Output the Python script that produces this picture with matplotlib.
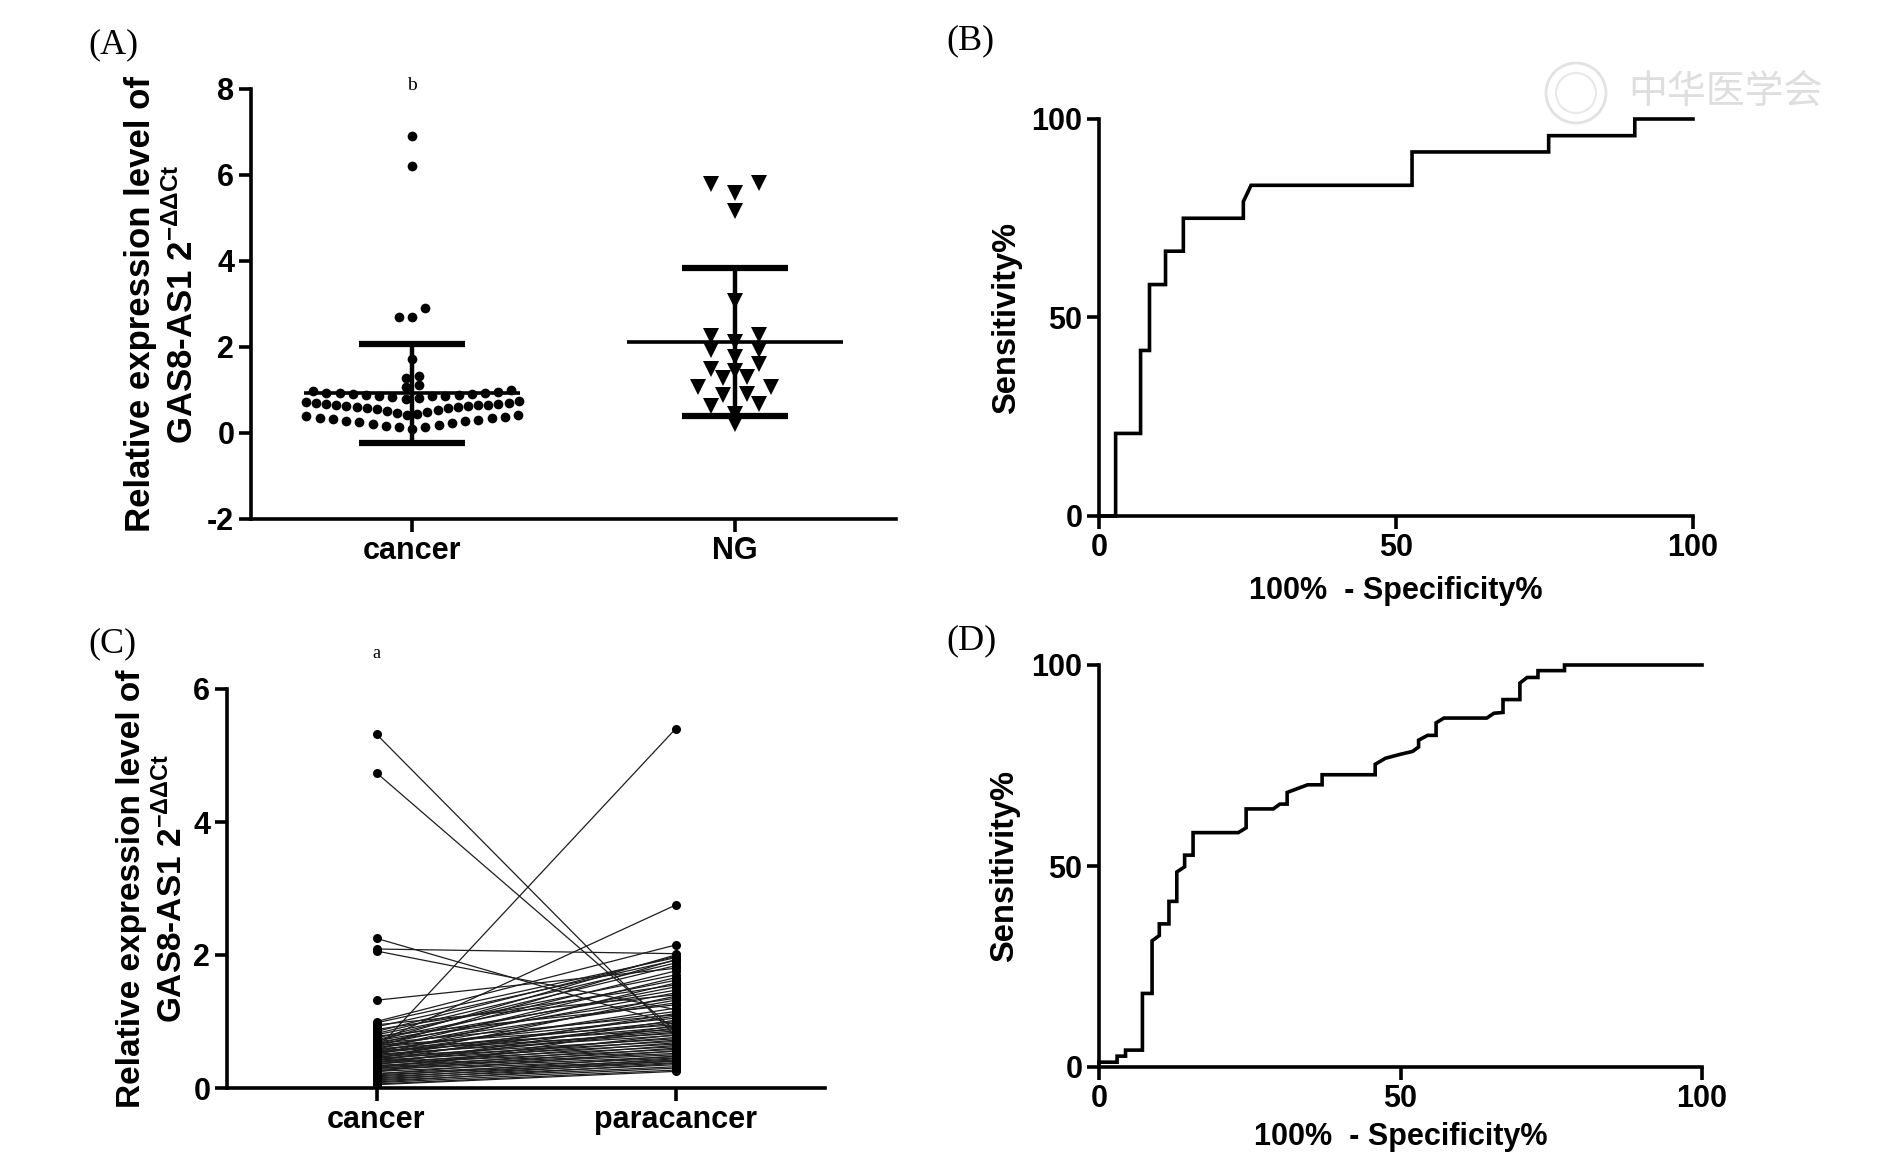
import numpy as np
import matplotlib.pyplot as plt
from matplotlib import transforms
from matplotlib.patches import Ellipse

plt.rcParams['font.family'] = ['Liberation Sans', 'DejaVu Sans']
plt.rcParams['font.weight'] = 'bold'
plt.rcParams['axes.labelweight'] = 'bold'
plt.rcParams['mathtext.fontset'] = 'custom'
plt.rcParams['mathtext.rm'] = 'Liberation Sans'
plt.rcParams['mathtext.bf'] = 'Liberation Sans:bold'

# ---- data ----
# (A) scatter dot plot
groups_A = ['cancer', 'NG']
cancer_A = [0.10, 0.13, 0.15, 0.17, 0.19, 0.21, 0.23, 0.25, 0.27, 0.29, 0.31, 0.33, 0.35, 0.36, 0.38, 0.39, 0.41,
            0.43, 0.45, 0.47, 0.49, 0.51, 0.53, 0.55, 0.57, 0.59, 0.60, 0.61, 0.62, 0.63, 0.64, 0.65, 0.66, 0.67,
            0.68, 0.69, 0.70, 0.72, 0.74,
            0.80, 0.82, 0.84, 0.85, 0.86, 0.87, 0.88, 0.89, 0.90, 0.91, 0.92, 0.93, 0.94, 0.96, 0.98, 1.00,
            1.06, 1.12, 1.28, 1.32, 1.73, 2.69, 2.70, 2.91, 6.20, 6.91]
ng_A = [5.82, 5.58, 5.78, 5.16, 3.07, 2.26, 2.27, 2.12, 1.94, 1.94, 1.76, 1.61, 1.45, 1.49, 1.30, 1.27,
        1.06, 1.06, 0.91, 0.88, 0.63, 0.67, 0.44, 0.21]

# (B) ROC points, cancer vs NG
roc_B_fpr = [0, 2.8, 2.8, 7.0, 7.0, 8.5, 8.5, 11.2, 11.2, 14.2, 14.2, 24.3, 24.3, 25.6, 52.7, 52.7,
             75.7, 75.7, 90.2, 90.2, 100]
roc_B_tpr = [0, 0, 20.8, 20.8, 41.7, 41.7, 58.3, 58.3, 66.7, 66.7, 75.0, 75.0, 79.2, 83.3, 83.3, 91.7,
             91.7, 95.8, 95.8, 100, 100]

# (C) paired samples
groups_C = ['cancer', 'paracancer']
cancer_C = [5.32, 4.74, 2.25, 2.06, 2.09, 1.32, 0.58, 0.68, 1.00, 0.98, 0.95, 0.92, 0.88, 0.85, 0.82, 0.80,
            0.78, 0.75, 0.73, 0.71, 0.70, 0.69, 0.67, 0.66, 0.65, 0.64, 0.63, 0.62, 0.61, 0.60, 0.59, 0.58,
            0.57, 0.56, 0.55, 0.54, 0.53, 0.52, 0.51, 0.50, 0.49, 0.48, 0.47, 0.46, 0.45, 0.44, 0.43, 0.42,
            0.41, 0.40, 0.39, 0.38, 0.37, 0.36, 0.35, 0.34, 0.33, 0.32, 0.31, 0.30, 0.29, 0.28, 0.26, 0.25,
            0.24, 0.22, 0.21, 0.20, 0.18, 0.17, 0.15, 0.14, 0.12, 0.11, 0.09, 0.08, 0.06, 0.05]
para_C = [0.78, 0.86, 0.95, 1.18, 2.02, 1.80, 5.40, 2.75, 2.15, 1.96, 1.40, 1.92, 1.55, 1.98, 1.88, 1.70,
          1.25, 1.84, 1.62, 1.47, 2.00, 1.35, 1.10, 1.76, 1.52, 0.95, 1.28, 1.93, 1.05, 1.43, 0.88, 1.66,
          1.15, 0.82, 1.32, 1.00, 0.92, 1.20, 0.79, 1.58, 0.86, 1.08, 0.74, 0.98, 0.70, 1.38, 0.84, 0.66,
          1.12, 0.76, 0.62, 0.90, 0.58, 0.72, 1.02, 0.55, 0.68, 0.52, 0.80, 0.50, 0.64, 0.47, 0.60, 0.45,
          0.94, 0.42, 0.56, 0.40, 0.48, 0.38, 0.44, 0.35, 0.41, 0.32, 0.37, 0.30, 0.27, 0.25]

# (D) ROC points, cancer vs paracancer
roc_D_fpr = [0, 0, 3.0, 3.0, 4.4, 4.4, 7.2, 7.2, 8.8, 8.8, 10.0, 10.0, 11.6, 11.6, 12.9, 12.9, 14.2, 14.2,
             15.6, 15.6, 23.1, 24.4, 24.4, 28.9, 30.0, 31.2, 31.2, 33.0, 34.6, 37.0, 37.0, 45.8, 45.8, 47.5,
             50.0, 52.0, 53.0, 53.0, 54.5, 55.9, 55.9, 57.2, 64.3, 65.5, 67.0, 67.0, 69.8, 69.8, 71.0, 72.8,
             72.8, 77.2, 77.2, 100]
roc_D_tpr = [0, 1.2, 1.2, 2.7, 2.7, 4.2, 4.2, 18.3, 18.3, 31.4, 32.7, 35.6, 35.6, 41.2, 41.2, 48.5, 49.8, 52.7,
             52.7, 58.3, 58.3, 59.5, 64.2, 64.2, 65.4, 65.4, 68.3, 69.3, 70.2, 70.2, 72.7, 72.7, 75.3, 76.8,
             77.8, 78.5, 79.6, 81.3, 82.5, 82.5, 85.6, 86.8, 86.8, 88.0, 88.2, 91.4, 91.4, 95.5, 96.9, 96.9,
             98.6, 98.6, 100, 100]

ylab = 'Relative expression level of\nGAS8-AS1 2$^{\\mathbf{-\u0394\u0394Ct}}$'
roc_xlab = '100%  - Specificity%'
roc_ylab = 'Sensitivity%'


def row_offsets(vals, edges, step, width):
    # GraphPad-like layout: values binned in rows, lowest in the middle
    vals = np.asarray(vals, dtype=float)
    off = np.zeros(len(vals))
    rows = np.digitize(vals, edges)
    for r in np.unique(rows):
        idx = np.where(rows == r)[0]
        idx = idx[np.argsort(vals[idx], kind='stable')]
        n = len(idx)
        st = step if n < 2 else min(step, width / (n - 1))
        slots = (np.arange(n) - (n - 1) / 2) * st
        off[idx] = slots[np.argsort(np.abs(slots), kind='stable')]
    return off


W, H = 1882, 1163
fig = plt.figure(figsize=(W / 100, H / 100), dpi=100)


def px_axes(l, r, t, b):
    return fig.add_axes([l / W, 1 - b / H, (r - l) / W, (b - t) / H])


def style(ax):
    for s in ['top', 'right']:
        ax.spines[s].set_visible(False)
    for s in ['left', 'bottom']:
        ax.spines[s].set_linewidth(2.6)
    ax.tick_params(width=2.6, length=9, labelsize=22, pad=3)
    ax.yaxis.label.set_va('center')
    ax.xaxis.label.set_va('center')


axA = px_axes(251, 896, 89, 519)
axB = px_axes(1099, 1693, 119, 516)
axC = px_axes(227, 825, 689, 1088)
axD = px_axes(1099, 1702, 665, 1067)

# ---- (A) ----
xc = 0 + row_offsets(cancer_A, [0.42, 0.78, 1.03, 1.2, 1.5, 2.0, 3.5, 6.5], 0.041, 0.66)
xn = 1 + row_offsets(ng_A, [0.35, 0.75, 1.15, 1.4, 1.7, 2.0, 2.4, 4.0, 5.4], 0.075, 0.5)
axA.plot(xc, cancer_A, 'o', color='k', ms=7, mew=0)
axA.plot(xn, ng_A, 'v', color='k', ms=11, mew=0)
for i, vals in enumerate([cancer_A, ng_A]):
    m, sd = np.mean(vals), np.std(vals, ddof=1)
    axA.errorbar(i, m, yerr=sd, fmt='none', ecolor='k', elinewidth=3.2, capsize=38, capthick=4.5)
    axA.hlines(m, i - 0.335, i + 0.335, color='k', lw=2.6)
axA.set_xlim(-0.5, 1.5)
axA.set_ylim(-2, 8)
axA.set_yticks(range(-2, 9, 2))
axA.set_yticklabels([str(v) for v in range(-2, 9, 2)])
axA.set_xticks([0, 1])
axA.set_xticklabels(groups_A, fontsize=23)
axA.set_ylabel(ylab, fontsize=25, linespacing=1.25)
style(axA)
axA.yaxis.set_label_coords(-0.138, 0.5)

# ---- (C) ----
axC.plot([0, 1], np.vstack([cancer_C, para_C]), color='#1e1e1e', lw=0.9,
         marker='o', ms=6.5, mfc='k', mec='k', mew=0)
axC.set_xlim(-0.5, 1.5)
axC.set_ylim(0, 6)
axC.set_yticks([0, 2, 4, 6])
axC.set_xticks([0, 1])
axC.set_xticklabels(groups_C, fontsize=23)
axC.set_ylabel(ylab, fontsize=24, linespacing=1.25)
style(axC)
axC.yaxis.set_label_coords(-0.124, 0.5)

# ---- (B), (D) ROC ----
for ax, fx, ty, xl in [(axB, roc_B_fpr, roc_B_tpr, -0.19), (axD, roc_D_fpr, roc_D_tpr, -0.175)]:
    ax.plot(fx, ty, color='k', lw=2.6, clip_on=False, solid_joinstyle='miter')
    ax.set_xlim(0, 100)
    ax.set_ylim(0, 100)
    ax.set_xticks([0, 50, 100])
    ax.set_yticks([0, 50, 100])
    ax.set_xlabel(roc_xlab, fontsize=22)
    ax.set_ylabel(roc_ylab, fontsize=23.5)
    style(ax)
    ax.xaxis.set_label_coords(0.5, xl)
    ax.yaxis.set_label_coords(-0.156, 0.5)

# panel letters and significance marks
for lab, x, y in [('(A)', 88, 45), ('(B)', 946, 41), ('(C)', 88, 644), ('(D)', 946, 641)]:
    fig.text(x / W, 1 - y / H, lab, family='Liberation Serif', weight='normal', fontsize=26,
             va='center', ha='left')
trA = transforms.blended_transform_factory(axA.transData, fig.transFigure)
axA.text(0, 1 - 86 / H, 'b', transform=trA, family='Liberation Serif', weight='normal',
         fontsize=14, ha='center', va='center')
trC = transforms.blended_transform_factory(axC.transData, fig.transFigure)
axC.text(0, 1 - 653 / H, 'a', transform=trC, family='Liberation Serif', weight='normal',
         fontsize=13, ha='center', va='center')

# faint watermark
fig.patches.append(Ellipse((1576 / W, 1 - 93 / H), 60 / W, 60 / H, transform=fig.transFigure,
                           fill=False, ec='#e2e2e2', lw=2))
fig.patches.append(Ellipse((1576 / W, 1 - 93 / H), 40 / W, 40 / H, transform=fig.transFigure,
                           fill=False, ec='#e8e8e8', lw=1.5))
fig.text(1628 / W, 1 - 93 / H, '中华医学会', family=['Noto Sans CJK SC', 'DejaVu Sans'],
         weight='normal', fontsize=28, color='#dedede', va='center', ha='left')

fig.savefig('out.png', dpi=100)
